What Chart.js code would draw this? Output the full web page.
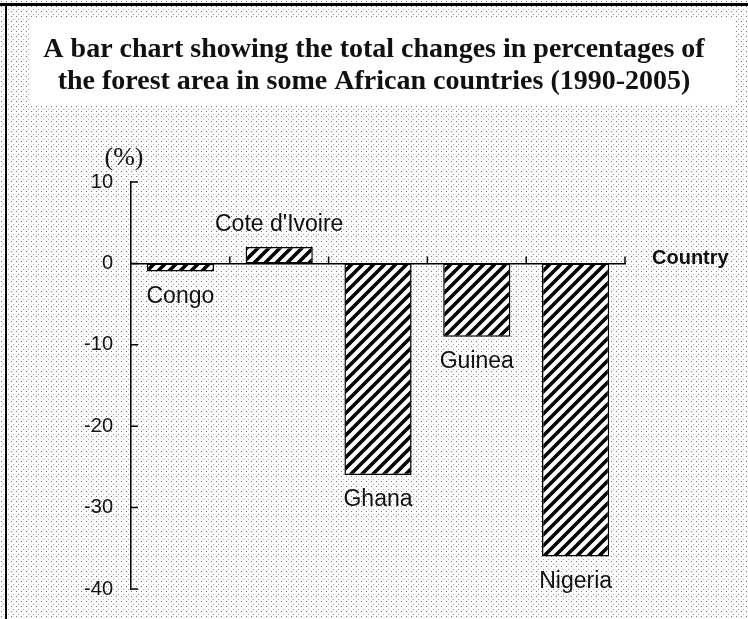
<!DOCTYPE html>
<html>
<head>
<meta charset="utf-8">
<title>Forest area change</title>
<script src="https://cdn.jsdelivr.net/npm/chart.js@4.4.1/dist/chart.umd.min.js"></script>
<style>
  html, body { margin: 0; padding: 0; background: #fff; }
  #chart { display: block; }
</style>
</head>
<body>
<canvas id="chart" width="748" height="619"></canvas>
<script>
// data
const countries = ['Congo', "Cote d'Ivoire", 'Ghana', 'Guinea', 'Nigeria'];
const changes = [-1, 2, -26, -9, -36];
const yTicks = [10, 0, -10, -20, -30, -40];
const titleLines = [
  'A bar chart showing the total changes in percentages of',
  'the forest area in some African countries (1990-2005)'
];

// halftone-ish background dots
function dotPattern() {
  const c = document.createElement('canvas');
  c.width = 5; c.height = 5;
  const g = c.getContext('2d');
  g.fillStyle = '#fdfdfd';
  g.fillRect(0, 0, 5, 5);
  g.fillStyle = '#777';
  g.fillRect(1, 1, 1, 1);
  g.fillStyle = '#aaa';
  g.fillRect(3, 4, 1, 1);
  return g.createPattern(c, 'repeat');
}

// diagonal hatching for the bars
function hatchPattern() {
  const s = 11;
  const c = document.createElement('canvas');
  c.width = s; c.height = s;
  const g = c.getContext('2d');
  g.fillStyle = '#fff';
  g.fillRect(0, 0, s, s);
  g.strokeStyle = '#000';
  g.lineWidth = 3.6;
  g.beginPath();
  g.moveTo(-3, 3); g.lineTo(3, -3);
  g.moveTo(0, s); g.lineTo(s, 0);
  g.moveTo(s - 3, s + 3); g.lineTo(s + 3, s - 3);
  g.stroke();
  return g.createPattern(c, 'repeat');
}

const ctx = document.getElementById('chart').getContext('2d');

const backdrop = {
  id: 'backdrop',
  beforeDraw(chart) {
    const g = chart.ctx;
    const w = chart.width, h = chart.height;
    g.save();
    g.fillStyle = dotPattern();
    g.fillRect(0, 0, w, h);
    // white title panel
    g.fillStyle = '#fff';
    g.fillRect(30, 18, 704, 88);
    // scan frame
    g.fillStyle = '#000';
    g.fillRect(0, 3, w, 3);
    g.fillRect(5, 3, 2, h - 3);
    // title
    g.fillStyle = '#111';
    g.textAlign = 'center';
    g.textBaseline = 'middle';
    g.font = 'bold 28px "Liberation Serif", "Times New Roman", serif';
    titleLines.forEach((t, i) => g.fillText(t, 374, 50 + i * 32));
    g.restore();
  }
};

const axisExtras = {
  id: 'axisExtras',
  afterDraw(chart) {
    const g = chart.ctx;
    const x = chart.scales.x, y = chart.scales.y;
    const area = chart.chartArea;
    const y0 = y.getPixelForValue(0);
    g.save();
    g.strokeStyle = '#000';
    g.lineWidth = 1.5;
    // inward ticks on the value axis
    g.beginPath();
    yTicks.forEach(v => {
      const py = y.getPixelForValue(v);
      g.moveTo(area.left, py);
      g.lineTo(area.left + 7, py);
    });
    // category boundaries on the zero line
    const half = (x.getPixelForValue(1) - x.getPixelForValue(0)) / 2;
    countries.forEach((c, i) => {
      const px = x.getPixelForValue(i) + half;
      g.moveTo(px, y0);
      g.lineTo(px, y0 - 7);
    });
    g.stroke();

    g.fillStyle = '#111';
    g.textBaseline = 'middle';
    g.font = 'bold 20px "Liberation Sans", Arial, sans-serif';
    g.textAlign = 'left';
    g.fillText('Country', area.right + 27, y0 - 5);
    g.font = '26px "Liberation Serif", "Times New Roman", serif';
    g.textAlign = 'center';
    g.fillText('(%)', area.left - 7, area.top - 24);

    // country names next to the bar ends
    g.font = '23px "Liberation Sans", Arial, sans-serif';
    const bars = chart.getDatasetMeta(0).data;
    bars.forEach((bar, i) => {
      const ly = changes[i] < 0 ? bar.y + 25 : bar.y - 22;
      g.fillText(countries[i], bar.x, ly);
    });
    g.restore();
  }
};

new Chart(ctx, {
  type: 'bar',
  data: {
    labels: countries,
    datasets: [{
      label: 'Change in forest area (%)',
      data: changes,
      backgroundColor: hatchPattern(),
      borderColor: '#000',
      borderWidth: 1.5,
      borderSkipped: false,
      categoryPercentage: 1,
      barPercentage: 0.68
    }]
  },
  options: {
    responsive: false,
    animation: false,
    events: [],
    layout: { padding: { left: 0, right: 123, top: 182, bottom: 29 } },
    plugins: {
      legend: { display: false },
      tooltip: { enabled: false },
      title: { display: false }
    },
    scales: {
      x: {
        type: 'category',
        offset: true,
        position: { y: 0 },
        grid: { display: false, drawTicks: false },
        border: { display: true, color: '#000', width: 1.5 },
        ticks: { display: false }
      },
      y: {
        min: -40,
        max: 10,
        afterFit(scale) { scale.width = 131; },
        grid: { display: false, drawTicks: false },
        border: { display: true, color: '#000', width: 1.5 },
        ticks: {
          stepSize: 10,
          padding: 18,
          color: '#111',
          font: { family: '"Liberation Sans", Arial, sans-serif', size: 20 }
        }
      }
    }
  },
  plugins: [backdrop, axisExtras]
});
</script>
</body>
</html>
